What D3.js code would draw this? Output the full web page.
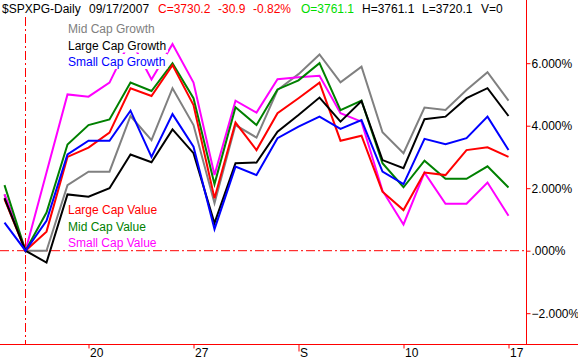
<!DOCTYPE html>
<html><head><meta charset="utf-8">
<script src="https://cdn.jsdelivr.net/npm/d3@7"></script>
<style>body{margin:0;background:#fff}svg{display:block}text{font-family:"Liberation Sans",Arial,sans-serif;font-size:12px}</style>
</head><body>
<script>
const dates = ["08/14","08/15","08/16","08/17","08/20","08/21","08/22","08/23","08/24","08/27","08/28","08/29","08/30","08/31","09/03","09/04","09/05","09/06","09/07","09/10","09/11","09/12","09/13","09/14","09/17"];
const tickDates = ["08/20","08/27","09/03","09/10","09/17"];
const tickLabels = ["20","27","S","10","17"];
const yTicks = [-2,0,2,4,6];
const midCapGrowth   = [1.8,0,0.0,2.1,2.53,2.53,4.31,3.54,5.2,4.02,1.52,4.02,3.62,5.14,5.65,6.28,5.39,5.89,3.79,3.12,4.58,4.5,5.14,5.71,4.8];
const largeCapGrowth = [1.68,0,-0.38,1.8,1.73,2.0,3.08,2.83,3.88,3.12,0.88,2.8,2.82,3.81,4.34,4.9,4.13,4.79,2.9,2.64,4.21,4.29,4.88,5.2,4.31];
const smallCapGrowth = [0.9,0,0.96,3.08,3.52,3.52,4.48,3.0,4.37,3.33,0.69,2.69,2.42,3.6,3.97,4.29,3.9,4.18,2.53,2.13,3.58,3.41,3.6,4.29,3.22];
const largeCapValue  = [1.65,0,0.61,3.0,3.3,3.78,5.2,4.95,5.94,4.66,1.68,4.1,3.22,4.4,4.88,5.38,3.52,3.68,1.89,1.3,2.5,2.42,3.22,3.31,3.0];
const midCapValue    = [2.1,0,1.22,3.4,4.02,4.2,5.38,5.11,6.0,4.88,2.13,4.59,4.02,5.16,5.45,6.0,4.5,4.8,2.8,2.03,2.88,2.3,2.3,2.7,2.02];
const smallCapValue  = [1.8,0,2.5,5.0,4.93,5.38,6.75,5.48,6.61,5.38,2.42,4.8,4.42,5.49,5.55,5.6,4.4,4.13,1.92,0.84,2.5,1.5,1.5,2.18,1.12];
const seriesNames  = ["Mid Cap Growth","Large Cap Growth","Small Cap Growth","Large Cap Value","Mid Cap Value","Small Cap Value"];
const seriesColors = ["#808080","#000000","#0000ff","#ff0000","#008000","#ff00ff"];
const seriesData   = [midCapGrowth,largeCapGrowth,smallCapGrowth,largeCapValue,midCapValue,smallCapValue];
const drawOrder = [0,5,4,3,1,2];

const W=578,H=359;
const svg=d3.select("body").append("svg").attr("width",W).attr("height",H);
const x=d3.scaleLinear().domain([0,dates.length-1]).range([4.5,508.5]);
const y=d3.scaleLinear().domain([-2,6]).range([313.2,63.2]);
const axisX=526, axisY=344.5;

// reference lines
svg.append("line").attr("x1",0).attr("x2",axisX).attr("y1",y(0)).attr("y2",y(0))
  .attr("stroke","#ff0000").attr("stroke-width",1).attr("stroke-dasharray","9,3,2,3");
svg.append("line").attr("x1",x(1)).attr("x2",x(1)).attr("y1",17).attr("y2",axisY)
  .attr("stroke","#ff0000").attr("stroke-width",1).attr("stroke-dasharray","9,3,2,3");

// lines
const line=d3.line().x((d,i)=>x(i)).y(d=>y(d));
drawOrder.forEach(k=>{
  svg.append("path").datum(seriesData[k]).attr("d",line).attr("fill","none")
    .attr("stroke",seriesColors[k]).attr("stroke-width",2).attr("stroke-linejoin","miter");
});

// legends with opaque background
const legendPos=[[68,33],[68,49.5],[68,66],[68,214],[68,230.5],[68,247]];
seriesNames.forEach((n,k)=>{
  const g=svg.append("g");
  const t=g.append("text").attr("x",legendPos[k][0]).attr("y",legendPos[k][1]).attr("fill",seriesColors[k]).text(n);
  const b=t.node().getBBox();
  g.insert("rect","text").attr("x",b.x-1).attr("y",legendPos[k][1]-12).attr("width",b.width+3).attr("height",15).attr("fill","#fff");
});

// axes
svg.append("line").attr("x1",axisX+0.5).attr("x2",axisX+0.5).attr("y1",0).attr("y2",axisY).attr("stroke","#ff0000");
svg.append("line").attr("x1",0).attr("x2",W).attr("y1",axisY).attr("y2",axisY).attr("stroke","#ff0000");

const yAxis=d3.axisRight(y).tickValues(yTicks).tickSize(4).tickSizeOuter(0)
  .tickFormat(v=>v===0?".000%":d3.format(".3f")(v)+"%");
const gy=svg.append("g").attr("transform",`translate(${axisX+0.5},0)`).call(yAxis);
gy.select(".domain").remove();
gy.selectAll("line").attr("stroke","#ff0000");
gy.selectAll("text").attr("fill","#000").attr("x",5).style("font-size","12px").style("font-family","Liberation Sans, Arial, sans-serif");

const tickIdx=tickDates.map(d=>dates.indexOf(d));
const xAxis=d3.axisBottom(x).tickValues(tickIdx).tickSizeOuter(0).tickSize(4).tickFormat((d,i)=>tickLabels[i]);
const gx=svg.append("g").attr("transform",`translate(0,${axisY})`).call(xAxis);
gx.select(".domain").remove();
gx.selectAll("line").attr("stroke","#ff0000").attr("y2",(d,i)=>tickLabels[i]==="S"?7:4);
gx.selectAll("text").attr("fill","#000").attr("text-anchor","start").attr("x",1).attr("y",4)
  .style("font-size","12px").style("font-family","Liberation Sans, Arial, sans-serif");

// header
const header=[["$SPXPG-Daily",2,"#000"],["09/17/2007",89,"#000"],["C=3730.2",158,"#ff0000"],["-30.9",218,"#ff0000"],["-0.82%",253,"#ff0000"],
  ["O=3761.1",301,"#00dd00"],["H=3761.1",362,"#000"],["L=3720.1",422,"#000"],["V=0",481,"#000"]];
header.forEach(h=>svg.append("text").attr("x",h[1]).attr("y",13).attr("fill",h[2]).text(h[0]));
</script>
</body></html>
